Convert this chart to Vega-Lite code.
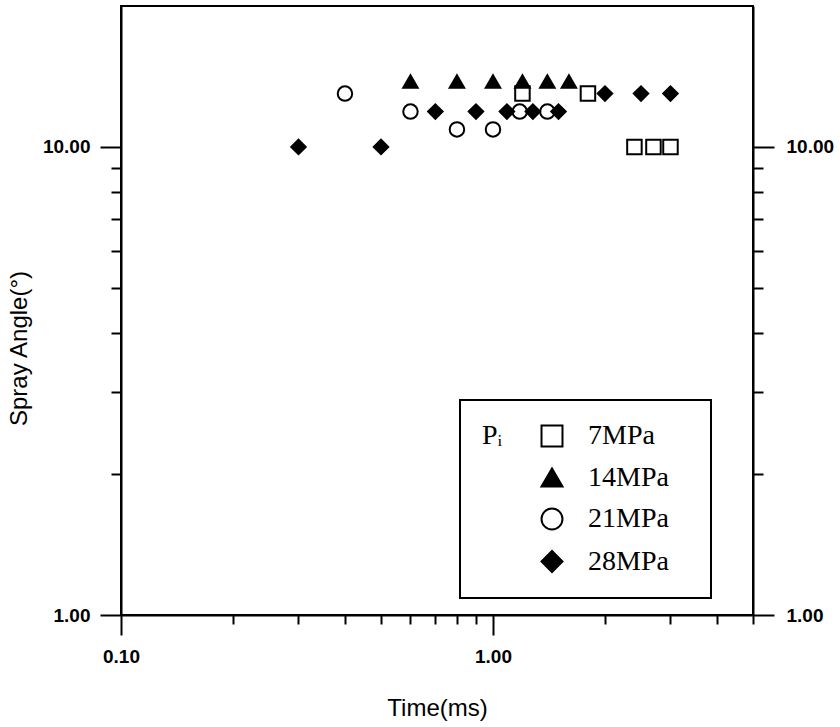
{
  "$schema": "https://vega.github.io/schema/vega-lite/v6.json",
  "width": 632,
  "height": 609,
  "autosize": {"type": "none"},
  "padding": {"left": 121, "top": 6, "right": 87, "bottom": 112},
  "background": "white",
  "config": {
    "font": "Liberation Sans",
    "view": {"stroke": "black", "strokeWidth": 2},
    "legend": {"strokeWidth": 2},
    "axis": {
      "grid": false,
      "domainColor": "black",
      "domainWidth": 2,
      "tickColor": "black",
      "tickWidth": 2,
      "labelColor": "black",
      "titleColor": "black",
      "labelFont": "Liberation Sans",
      "labelFontSize": 19,
      "labelFontWeight": "bold",
      "titleFont": "Liberation Sans",
      "titleFontSize": 24,
      "titleFontWeight": "normal"
    }
  },
  "data": {
    "values": [
      {"series": "7MPa", "t": 1.2, "a": 13},
      {"series": "7MPa", "t": 1.8, "a": 13},
      {"series": "7MPa", "t": 2.4, "a": 10},
      {"series": "7MPa", "t": 2.7, "a": 10},
      {"series": "7MPa", "t": 3.0, "a": 10},
      {"series": "14MPa", "t": 0.6, "a": 13.8},
      {"series": "14MPa", "t": 0.8, "a": 13.8},
      {"series": "14MPa", "t": 1.0, "a": 13.8},
      {"series": "14MPa", "t": 1.2, "a": 13.8},
      {"series": "14MPa", "t": 1.4, "a": 13.8},
      {"series": "14MPa", "t": 1.6, "a": 13.8},
      {"series": "21MPa", "t": 0.4, "a": 13},
      {"series": "21MPa", "t": 0.6, "a": 11.9},
      {"series": "21MPa", "t": 0.8, "a": 10.9},
      {"series": "21MPa", "t": 1.0, "a": 10.9},
      {"series": "21MPa", "t": 1.18, "a": 11.9},
      {"series": "21MPa", "t": 1.4, "a": 11.9},
      {"series": "28MPa", "t": 0.3, "a": 10},
      {"series": "28MPa", "t": 0.5, "a": 10},
      {"series": "28MPa", "t": 0.7, "a": 11.9},
      {"series": "28MPa", "t": 0.9, "a": 11.9},
      {"series": "28MPa", "t": 1.09, "a": 11.9},
      {"series": "28MPa", "t": 1.28, "a": 11.9},
      {"series": "28MPa", "t": 1.5, "a": 11.9},
      {"series": "28MPa", "t": 2.0, "a": 13},
      {"series": "28MPa", "t": 2.5, "a": 13},
      {"series": "28MPa", "t": 3.0, "a": 13}
    ]
  },
  "resolve": {"axis": {"x": "independent", "y": "independent"}},
  "layer": [
    {
      "mark": {"type": "point", "filled": true, "stroke": "black", "strokeWidth": 2, "size": 210, "opacity": 1},
      "encoding": {
        "x": {
          "field": "t", "type": "quantitative",
          "scale": {"type": "log", "domain": [0.1, 5], "nice": false},
          "axis": {
            "orient": "bottom",
            "values": [0.1, 0.2, 0.3, 0.4, 0.5, 0.6, 0.7, 0.8, 0.9, 1, 2, 3, 4, 5],
            "labelExpr": "datum.value == 0.1 || datum.value == 1 ? format(datum.value, '.2f') : ''",
            "tickSize": {"condition": {"test": "datum.value == 0.1 || datum.value == 1", "value": 20}, "value": 9},
            "labelPadding": 12,
            "labelFlush": false,
            "labelOverlap": false,
            "title": "Time(ms)",
            "titleY": 93,
            "titleBaseline": "middle"
          }
        },
        "y": {
          "field": "a", "type": "quantitative",
          "scale": {"type": "log", "domain": [1, 20], "nice": false},
          "axis": {
            "orient": "left",
            "values": [1, 2, 3, 4, 5, 6, 7, 8, 9, 10],
            "labelExpr": "datum.value == 1 || datum.value == 10 ? format(datum.value, '.2f') : ''",
            "tickSize": {"condition": {"test": "datum.value == 1 || datum.value == 10", "value": 21}, "value": 10},
            "labelPadding": 10,
            "labelOverlap": false,
            "labelFlush": false,
            "title": "Spray Angle(°)",
            "titleX": -102,
            "titleY": 342,
            "titleBaseline": "middle"
          }
        },
        "shape": {
          "field": "series", "type": "nominal",
          "scale": {"domain": ["7MPa", "14MPa", "21MPa", "28MPa"], "range": ["square", "triangle-up", "circle", "diamond"]},
          "legend": {
            "title": "Pᵢ",
            "orient": "none",
            "legendX": 339,
            "legendY": 394,
            "titleOrient": "left",
            "titleAnchor": "start",
            "titleBaseline": "top",
            "titleFont": "Liberation Serif",
            "titleFontSize": 28,
            "titleFontWeight": "normal",
            "titleColor": "black",
            "titlePadding": 35,
            "labelFont": "Liberation Serif",
            "labelFontSize": 28,
            "labelColor": "black",
            "labelOffset": 22,
            "labelExpr": "datum.label + '\u2002\u2009\u200b'",
            "symbolSize": 440,
            "symbolStrokeColor": "black",
            "symbolStrokeWidth": 2,
            "rowPadding": 12.5,
            "padding": 22,
            "strokeColor": "black",
            "cornerRadius": 0
          }
        },
        "fill": {
          "field": "series", "type": "nominal",
          "scale": {"domain": ["7MPa", "14MPa", "21MPa", "28MPa"], "range": ["transparent", "black", "transparent", "black"]}
        },
        "stroke": {
          "field": "series", "type": "nominal",
          "scale": {"domain": ["7MPa", "14MPa", "21MPa", "28MPa"], "range": ["black", "black", "black", "black"]}
        }
      }
    },
    {
      "mark": {"type": "point", "opacity": 0},
      "encoding": {
        "x": {"field": "t", "type": "quantitative", "axis": null},
        "y": {
          "field": "a", "type": "quantitative",
          "axis": {
            "orient": "right",
            "values": [1, 2, 3, 4, 5, 6, 7, 8, 9, 10],
            "labelExpr": "datum.value == 1 || datum.value == 10 ? format(datum.value, '.2f') : ''",
            "tickSize": {"condition": {"test": "datum.value == 1 || datum.value == 10", "value": 21}, "value": 10},
            "labelPadding": 12,
            "labelOverlap": false,
            "labelFlush": false,
            "title": null
          }
        }
      }
    }
  ]
}
